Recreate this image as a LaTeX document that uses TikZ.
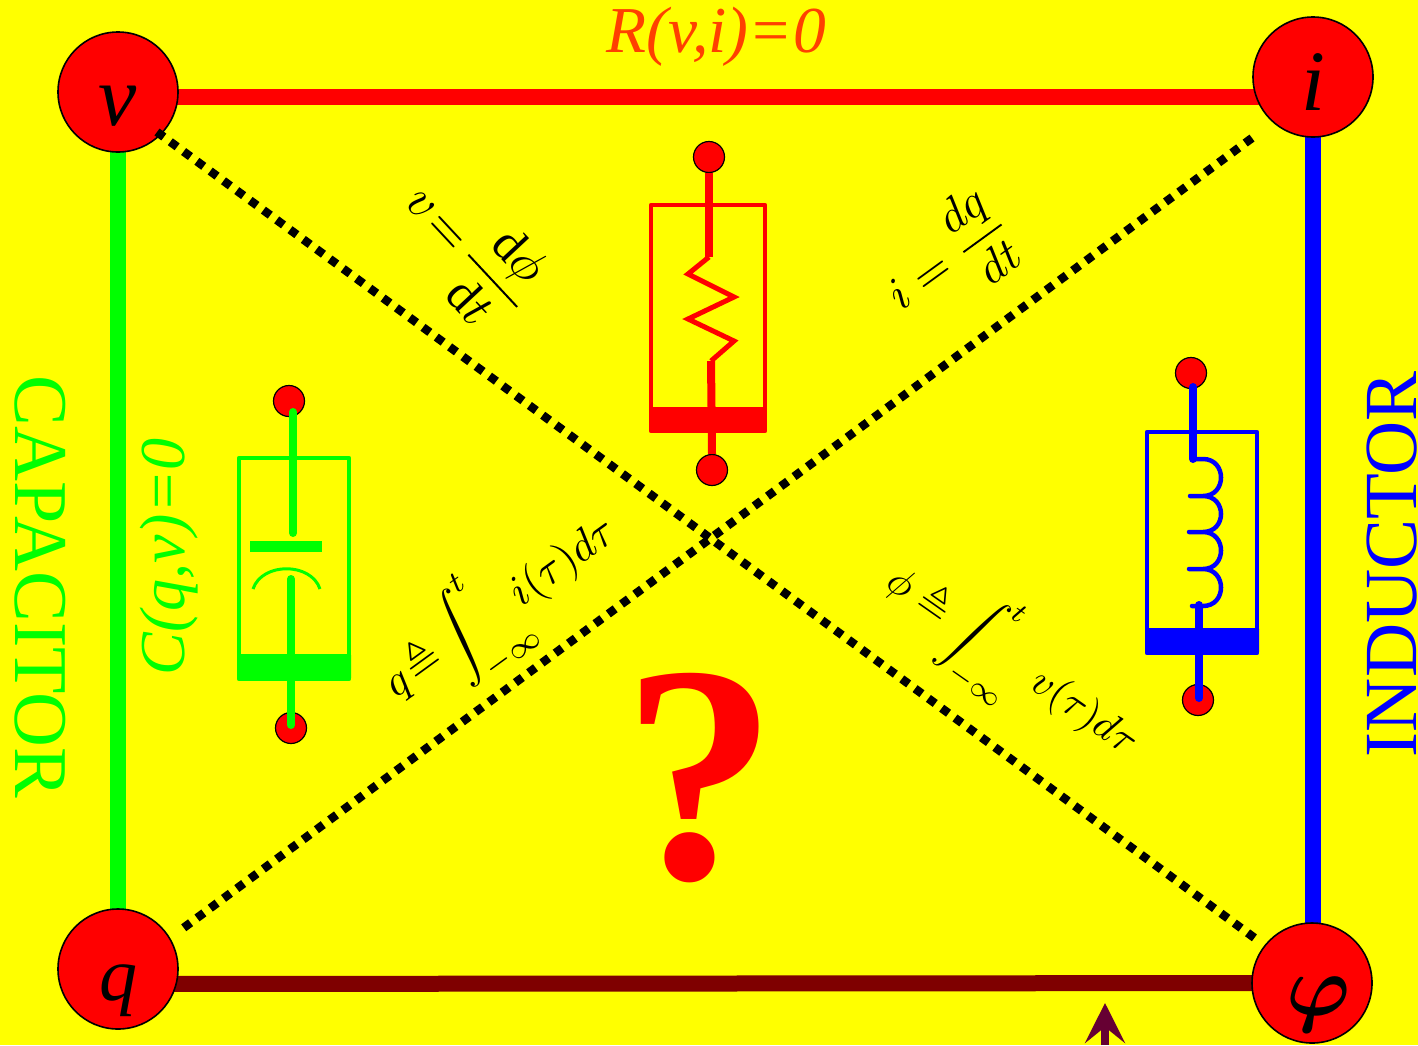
\documentclass[tikz,border=0pt]{standalone}
\usepackage{amssymb}
\usepackage{fontspec}
\setmainfont{Liberation Serif}
\usetikzlibrary{arrows.meta,backgrounds}
\definecolor{bgy}{HTML}{FFFF00}
\definecolor{rd}{HTML}{FF0000}
\definecolor{gn}{HTML}{00FF00}
\definecolor{bl}{HTML}{0000FF}
\definecolor{mar}{HTML}{7F0000}
\definecolor{org}{HTML}{FF4000}
\definecolor{plum}{HTML}{660033}
\newcommand{\fsz}[1]{\fontsize{#1}{#1}\selectfont}
\tikzset{
  vertexdot/.style={circle,draw=black,line width=1.6pt,fill=rd,minimum size=120pt,inner sep=0pt},
  terminal/.style={circle,draw=black,line width=1.2pt,fill=rd,minimum size=31pt,inner sep=0pt},
  edgeline/.style={line width=16pt},
  dots/.style={line width=8.5pt,dash pattern=on 8.5pt off 8pt,black},
  vlabel/.style={anchor=base,inner sep=0pt,text=black},
  casing/.style={line width=4.5pt,line join=round},
  wire/.style={line width=8pt,line cap=round},
  formula/.style={inner sep=0pt,text=black},
}
\begin{document}
\begin{tikzpicture}[x=1pt,y=-1pt]
\useasboundingbox (0,0) rectangle (1418,1045);
% vertices
\node[vertexdot] (v) at (118,92) {};
\node[vertexdot] (i) at (1313,77) {};
\node[vertexdot] (q) at (118,969) {};
\node[vertexdot] (phi) at (1312,983) {};
\node[vlabel] (vl) at (118,125) {\fsz{86}\itshape v};
\node[vlabel] (il) at (1313,110) {\fsz{86}\itshape i};
\node[vlabel] (ql) at (118,1000) {\fsz{76}\itshape q};
\node[inner sep=0pt,text=black,scale=8.6,font=\boldmath] (pl) at (1319,1005) {$\varphi$};
\begin{scope}[on background layer]
  \fill[bgy] (0,0) rectangle (1418,1045);
  \draw[edgeline,rd] ([yshift=-5pt]v.center) -- ([yshift=-20pt]i.center);
  \draw[edgeline,gn] (v.center) -- (q.center);
  \draw[edgeline,bl] (i.center) -- (i.center |- phi.center);
  \draw[edgeline,mar] ([yshift=-15pt]q.center) -- (phi.center);
\end{scope}
% dotted diagonals
\coordinate (da) at (157,132);
\coordinate (db) at (1256,939);
\coordinate (dc) at (1252,138);
\coordinate (dd) at (178,932);
\draw[dots] (da) -- (db);
\draw[dots] (dc) -- (dd);
% side labels
\node[anchor=base,inner sep=0pt,text=org] (rl) at (716,52) {\fsz{65.5}\itshape R(v,i)=0};
\node[anchor=base,inner sep=0pt,text=gn,rotate=-90] (capl) at (15,587) {\fsz{76}CAPACITOR};
\node[anchor=base,inner sep=0pt,text=gn,rotate=90] (cl) at (184,557) {\fsz{64}\itshape C(q,v)=0};
\node[anchor=base,inner sep=0pt,text=bl,rotate=90] (indl) at (1416,564) {\fsz{75}INDUCTOR};
% resistor
\node[terminal] (rt) at (709,157) {};
\node[terminal] (rb) at (712,470) {};
\coordinate (rza) at (709,257);
\coordinate (rzb) at (711,361);
\draw[casing,rd] (651,205) rectangle (765,431);
\fill[rd] (650,407) rectangle (766,432);
\draw[rd,line width=7.5pt] (rt.south) -- (rza);
\draw[rd,line width=8pt] (rzb) -- (rb.north);
\draw[rd,line width=5pt,line join=miter] (rza) -- (688,274) -- (734,297) -- (688,319) -- (734,341) -- (rzb);
% capacitor
\node[terminal] (ct) at (289,401) {};
\node[terminal] (cb) at (291,728) {};
\draw[casing,gn] (239,458) rectangle (349,679);
\fill[gn,rounded corners=1pt] (237,654) rectangle (351,679);
\coordinate (cwa) at (293,412);
\coordinate (cwb) at (293,533);
\coordinate (cwc) at (291,579);
\coordinate (cwd) at (291,725);
\draw[wire,gn] (cwa) -- (cwb);
\draw[wire,gn] (cwc) -- (cwd);
\fill[gn] (250,541) rectangle (322,552);
\draw[gn,line width=3pt] (253,589) .. controls (262,562) and (311,562) .. (320,589);
% inductor
\node[terminal] (lt) at (1191,373) {};
\node[terminal] (lb) at (1198,700) {};
\draw[casing,bl] (1147,432) rectangle (1257,653);
\fill[bl,rounded corners=1pt] (1145,628) rectangle (1259,653);
\coordinate (lwa) at (1193,387);
\coordinate (lwb) at (1193,459);
\coordinate (lwc) at (1199,605);
\coordinate (lwd) at (1199,698);
\draw[wire,bl] (lwa) -- (lwb);
\draw[wire,bl] (lwc) -- (lwd);
\draw[bl,line width=4.5pt,line cap=round]
  (lwb) -- (1203,459) .. controls (1227,459) and (1227,496) .. (1203,496) -- (1190,496)
  (1203,496) .. controls (1227,496) and (1227,532) .. (1203,532) -- (1189,532)
  (1203,532) .. controls (1227,532) and (1227,569) .. (1203,569) -- (1189,569)
  (1203,569) .. controls (1227,569) and (1227,606) .. (1203,606) -- (1192,606);
% formulas
\node[formula,rotate=-47,scale=5] (f1) at (470,250) {$v\!=\!\displaystyle\frac{\,\mathrm{d}\phi\,}{\mathrm{d}t}$};
\node[formula,rotate=36,scale=4.7] (f2) at (948,258) {$i=\displaystyle\frac{dq}{dt}$};
\node[formula,rotate=36,scale=4.4] (f3) at (501,608) {$q\!\triangleq\!\displaystyle\int_{-\infty}^{t}\!i(\tau)d\tau$};
\node[formula,rotate=-35,scale=4.1] (f4) at (1012,662) {$\phi\triangleq\displaystyle\int_{-\infty}^{t}\,v(\tau)d\tau$};
% question mark
\node[inner sep=0pt,text=rd] (qm) at (700,778) {\fsz{310}\bfseries ?};
% arrow
\coordinate (aa) at (1105,1045);
\coordinate (ab) at (1105,1003);
\draw[plum,line width=8pt,-{Stealth[length=40pt,width=40pt,inset=16pt]}] (aa) -- (ab);
\end{tikzpicture}
\end{document}
